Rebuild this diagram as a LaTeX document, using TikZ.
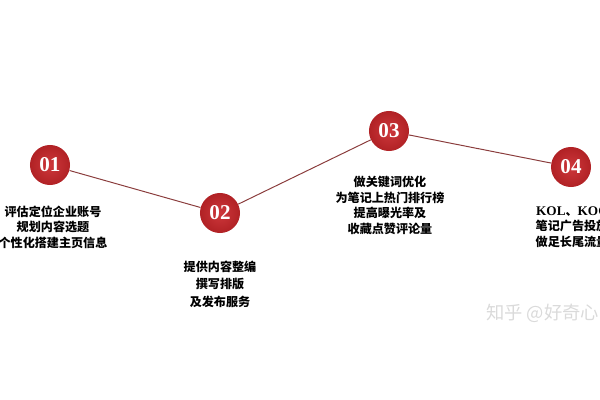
\documentclass[tikz,border=0pt]{standalone}
\usepackage{fontspec}
\setmainfont{Liberation Serif}
\newfontfamily\cjk{Noto Sans CJK SC}
\usetikzlibrary{positioning}
\definecolor{stepred}{HTML}{C9262A}
\definecolor{linkred}{HTML}{8A3C3C}
\definecolor{markgray}{HTML}{DADADA}

\begin{document}
\begin{tikzpicture}[x=0.025cm,y=-0.025cm,
  stepcircle/.style={circle,inner color=stepred!92!white,outer color=stepred!88!black,
    minimum size=1cm,inner sep=0pt,
    text=white,font=\fontsize{15}{15}\selectfont\bfseries},
  steptext/.style={align=center,inner sep=0pt,
    font=\cjk\bfseries\fontsize{8.6}{#1}\selectfont},
  steptext/.default=11,
  linkline/.style={draw=linkred,line width=0.7pt}]
\useasboundingbox (0,0) rectangle (600,400);
\clip (0,0) rectangle (600,400);

\node[stepcircle] (n1) at (50,165) {01};
\node[stepcircle] (n2) at (220,213) {02};
\node[stepcircle] (n3) at (389,131) {03};
\node[stepcircle] (n4) at (571,167) {04};
\draw[linkline] (n1) -- (n2) -- (n3) -- (n4);

\node[steptext] (t1) at (53,227) {评估定位企业账号\\规划内容选题\\个性化搭建主页信息};
\node[steptext=12.5] (t2) at (220,284) {提供内容整编\\撰写排版\\及发布服务};
\node[steptext] (t3) at (390,205.5) {做关键词优化\\为笔记上热门排行榜\\提高曝光率及\\收藏点赞评论量};
\node[steptext] (t4) at (572,227) {{\rmfamily\fontsize{9.4}{11}\selectfont KOL}、{\rmfamily\fontsize{9.4}{11}\selectfont KOC}\\笔记广告投放\\做足长尾流量};

\node[anchor=west,inner sep=0pt,text=markgray,font=\cjk\fontsize{13}{13}\selectfont] (mark) at (486,313) {知乎 @好奇心日报};
\end{tikzpicture}
\end{document}
